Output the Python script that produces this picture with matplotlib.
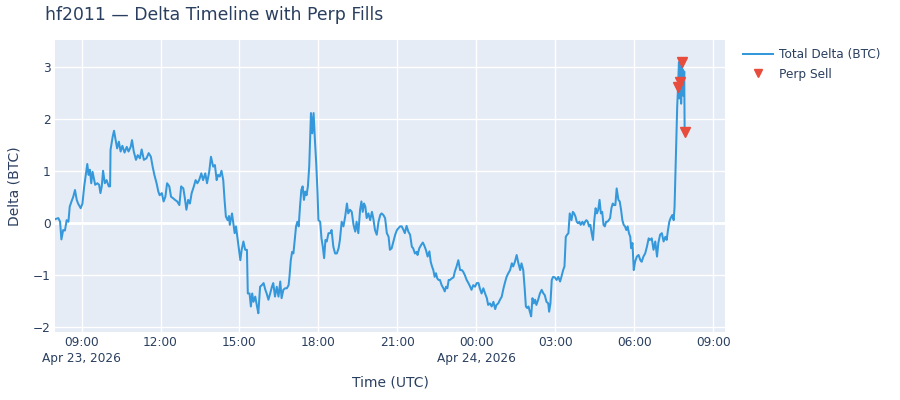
import matplotlib
matplotlib.use("Agg")
import matplotlib.pyplot as plt
import numpy as np
import pandas as pd

# minutes after 2026-04-23 08:00 UTC, and total delta (BTC)
t1 = [0, 7, 11, 14, 18, 22, 26, 30, 33, 37, 41, 45, 49, 52, 58, 62, 66, 69, 73, 76,
      79, 82, 85, 88, 91, 96, 100, 103, 106, 109, 113, 117, 122, 125, 126, 131, 134, 137, 141, 145,
      149, 153, 158, 163, 167, 172, 175, 179, 184, 188, 193, 197, 202, 208, 213, 218, 222, 226, 231, 235,
      238, 243, 247, 251, 255, 260, 264, 269, 273, 278, 283, 287, 292, 295, 299, 303, 307, 311, 316, 320,
      324, 328, 333, 337, 342, 346, 351, 355, 360, 364, 368, 371, 375, 379, 383, 386, 389, 393, 396, 398]
d1 = [0.08, 0.10, 0.03, -0.31, -0.13, -0.14, 0.06, 0.03, 0.32, 0.42, 0.51, 0.64, 0.45, 0.38, 0.29, 0.38, 0.71, 0.90, 1.14, 0.93,
      1.03, 0.77, 0.99, 0.87, 0.74, 0.77, 0.74, 0.58, 0.71, 1.01, 0.77, 0.83, 0.71, 0.71, 1.41, 1.67, 1.78, 1.63, 1.44, 1.57,
      1.38, 1.49, 1.36, 1.47, 1.38, 1.47, 1.60, 1.38, 1.22, 1.31, 1.25, 1.42, 1.22, 1.25, 1.35, 1.28, 1.09, 0.93, 0.77, 0.61,
      0.54, 0.58, 0.42, 0.51, 0.77, 0.71, 0.51, 0.48, 0.45, 0.42, 0.35, 0.71, 0.67, 0.51, 0.26, 0.45, 0.38, 0.58, 0.71, 0.83,
      0.77, 0.83, 0.96, 0.83, 0.96, 0.77, 0.99, 1.28, 1.09, 1.12, 0.83, 0.93, 0.90, 1.01, 0.83, 0.45, 0.13, 0.06, 0.14, -0.03]

t2 = [403, 406, 409, 412, 415, 418, 422, 425, 429, 433, 437, 439, 443, 446, 449, 452, 456, 460, 463, 467,
      471, 475, 479, 482, 486, 490, 494, 497, 501, 505, 509, 513, 516, 520, 524, 528, 532, 534, 537, 540,
      543, 546, 549, 552, 555, 558, 561, 564, 567, 570, 573, 576, 579, 583, 586, 589, 592, 595, 598, 600,
      604, 607, 610, 613, 616, 619, 623, 627, 630, 634, 638, 642, 646, 649, 653, 657, 661, 665, 668, 672,
      676, 680, 684, 687, 691, 695, 698, 701, 704, 707, 710, 714, 718, 722, 725, 729, 733, 737, 741, 744,
      748, 752, 756, 760, 763, 767, 771, 775, 779, 782, 786]
d2 = [0.19, 0.00, -0.19, -0.06, -0.26, -0.45, -0.71, -0.51, -0.35, -0.51, -0.51, -1.35, -1.35, -1.60, -1.35, -1.51, -1.41, -1.60, -1.73, -1.22,
      -1.19, -1.15, -1.28, -1.35, -1.47, -1.35, -1.22, -1.15, -1.41, -1.22, -1.41, -1.12, -1.44, -1.28, -1.25, -1.25, -1.19, -1.03, -0.71, -0.55,
      -0.58, -0.32, -0.06, 0.03, -0.06, 0.32, 0.64, 0.71, 0.45, 0.61, 0.54, 0.71, 1.09, 2.12, 1.73, 2.12, 1.60, 1.15, 0.58, 0.06,
      0.03, -0.29, -0.45, -0.67, -0.32, -0.35, -0.19, -0.19, -0.13, -0.45, -0.58, -0.58, -0.48, -0.32, 0.03, -0.06, 0.13, 0.38, 0.19, 0.26,
      0.22, -0.03, -0.16, 0.03, -0.19, 0.26, 0.42, 0.22, 0.38, 0.32, 0.10, 0.19, 0.06, 0.22, 0.10, -0.13, -0.22, 0.03, 0.16, 0.19,
      0.16, 0.10, -0.19, -0.26, -0.51, -0.48, -0.35, -0.22, -0.13, -0.10, -0.06]

t3 = [790, 794, 797, 801, 805, 809, 813, 816, 820, 824, 826, 830, 834, 838, 841, 845, 849, 853, 856, 859,
      862, 865, 868, 871, 874, 877, 881, 885, 888, 891, 894, 897, 900, 904, 908, 911, 915, 919, 923, 927,
      930, 934, 938, 942, 946, 949, 953, 957, 961, 965, 968, 972, 976, 980, 984, 987, 991, 995, 999, 1003,
      1006, 1010, 1014, 1018, 1022, 1025, 1029, 1033, 1037, 1041, 1044, 1048, 1052, 1056, 1060, 1063, 1067, 1070, 1073, 1076,
      1079, 1082, 1085, 1088, 1091, 1094, 1097, 1101, 1105, 1109, 1113, 1116, 1120, 1124, 1126, 1129, 1132, 1135, 1139, 1143,
      1147, 1151, 1154, 1158, 1161, 1164, 1167, 1170, 1173]
d3 = [-0.06, -0.13, -0.19, -0.05, -0.16, -0.22, -0.45, -0.48, -0.58, -0.55, -0.61, -0.48, -0.42, -0.37, -0.42, -0.51, -0.64, -0.54, -0.74, -0.83,
      -0.90, -1.03, -0.96, -1.06, -1.09, -1.09, -1.19, -1.25, -1.31, -1.22, -1.25, -1.09, -1.09, -1.06, -1.04, -0.93, -0.83, -0.71, -0.90, -0.90,
      -0.93, -1.00, -1.09, -1.15, -1.22, -1.28, -1.19, -1.22, -1.15, -1.15, -1.25, -1.35, -1.25, -1.35, -1.44, -1.57, -1.54, -1.60, -1.51, -1.65,
      -1.57, -1.54, -1.47, -1.41, -1.25, -1.15, -1.03, -0.96, -0.90, -0.77, -0.83, -0.74, -0.61, -0.77, -0.90, -0.77, -0.90, -1.22, -1.60, -1.63,
      -1.60, -1.70, -1.79, -1.44, -1.54, -1.47, -1.57, -1.47, -1.35, -1.28, -1.35, -1.38, -1.51, -1.54, -1.70, -1.54, -1.09, -1.03, -1.04, -1.09,
      -1.03, -1.12, -1.03, -0.90, -0.83, -0.26, -0.22, -0.19, 0.19]

t4 = [1177, 1180, 1183, 1186, 1189, 1192, 1195, 1198, 1202, 1205, 1208, 1211, 1214, 1217, 1220, 1223, 1226, 1229, 1232, 1235,
      1238, 1241, 1244, 1247, 1250, 1253, 1256, 1259, 1262, 1265, 1268, 1271, 1274, 1277, 1280, 1284, 1287, 1290, 1293, 1296,
      1299, 1302, 1305, 1308, 1311, 1313, 1316, 1319, 1322, 1326, 1330, 1334, 1337, 1341, 1345, 1349, 1353, 1356, 1360, 1364,
      1368, 1372, 1375, 1379, 1383, 1387, 1391, 1394, 1397, 1400, 1403, 1407, 1410, 1412, 1414, 1416, 1418,
      1420, 1422, 1423, 1425, 1426, 1427, 1429, 1430, 1431, 1432, 1434, 1435]
d4 = [0.06, 0.22, 0.19, 0.13, 0.03, 0.00, 0.03, -0.03, 0.03, -0.03, 0.03, 0.06, 0.03, -0.06, -0.03, -0.19, -0.32, 0.06, 0.29, 0.19,
      0.26, 0.45, 0.19, 0.22, -0.03, -0.06, 0.03, 0.03, 0.06, 0.10, 0.29, 0.38, 0.35, 0.35, 0.67, 0.45, 0.42, 0.26, 0.06, -0.03,
      -0.06, -0.13, -0.06, -0.19, -0.26, -0.48, -0.38, -0.90, -0.74, -0.64, -0.61, -0.71, -0.74, -0.64, -0.58, -0.45, -0.29, -0.32, -0.29, -0.51,
      -0.35, -0.64, -0.38, -0.22, -0.19, -0.35, -0.26, -0.32, -0.13, 0.03, 0.10, 0.16, 0.06, 0.32, 0.96, 1.60, 2.24,
      2.63, 3.10, 2.40, 2.72, 3.05, 2.30, 3.11, 2.50, 2.95, 2.45, 2.92, 1.75]

# perp sell fills
sell_t = [1420, 1425, 1429, 1435]
sell_d = [2.63, 2.72, 3.11, 1.75]

tick_labels = ["09:00\nApr 23, 2026", "12:00", "15:00", "18:00", "21:00",
               "00:00\nApr 24, 2026", "03:00", "06:00", "09:00"]

start = pd.Timestamp("2026-04-23 08:00")
times = start + pd.to_timedelta(t1 + t2 + t3 + t4, unit="min")
delta = np.array(d1 + d2 + d3 + d4)
sell_times = start + pd.to_timedelta(sell_t, unit="min")

txt = "#2a3f5f"
plt.rcParams["font.family"] = ["DejaVu Sans"]

fig = plt.figure(figsize=(9, 4), dpi=100)
ax = fig.add_axes([55 / 900, 1 - 331.7 / 400, 670 / 900, 291.7 / 400])
ax.set_facecolor("#e5ecf6")
for s in ax.spines.values():
    s.set_visible(False)

ax.plot(times, delta, color="#3498db", lw=1.45, label="Total Delta (BTC)", zorder=3)
ax.plot(sell_times, sell_d, ls="none", marker="v", ms=7.5, color="#e74c3c",
        label="Perp Sell", zorder=4)

ax.set_xlim(start - pd.Timedelta(minutes=0.6), start + pd.Timedelta(minutes=1527))
ax.set_ylim(-2.085, 3.525)

ticks = pd.date_range("2026-04-23 09:00", "2026-04-24 09:00", freq="3h")
ax.set_xticks(ticks)
ax.set_xticklabels(tick_labels)
ax.set_yticks([-2, -1, 0, 1, 2, 3])
ax.grid(color="white", lw=1, zorder=0)
ax.set_axisbelow(True)
ax.axhline(0, color="white", lw=2, zorder=1)
ax.tick_params(length=0, labelsize=8.7, colors=txt, pad=3)
for lb in ax.get_xticklabels():
    lb.set_linespacing(1.35)

ax.set_xlabel("Time (UTC)", fontsize=10, color=txt, va="center")
ax.xaxis.set_label_coords(0.5, (331.7 - 382) / 291.7)
ax.set_ylabel("Delta (BTC)", fontsize=10, color=txt, va="center")
ax.yaxis.set_label_coords((15 - 55) / 670, 0.5)

fig.text(45 / 900, 1 - 15 / 400, "hf2011 \u2014 Delta Timeline with Perp Fills",
         fontsize=12.4, color=txt, ha="left", va="center")

fig.legend(loc="upper left", bbox_to_anchor=(743 / 900, 1 - 48 / 400), frameon=False,
           fontsize=8.7, labelcolor=txt, handlelength=2.5, handletextpad=0.5,
           borderpad=0, borderaxespad=0, labelspacing=0.55, markerscale=0.85)

fig.savefig("out.png", dpi=100)
